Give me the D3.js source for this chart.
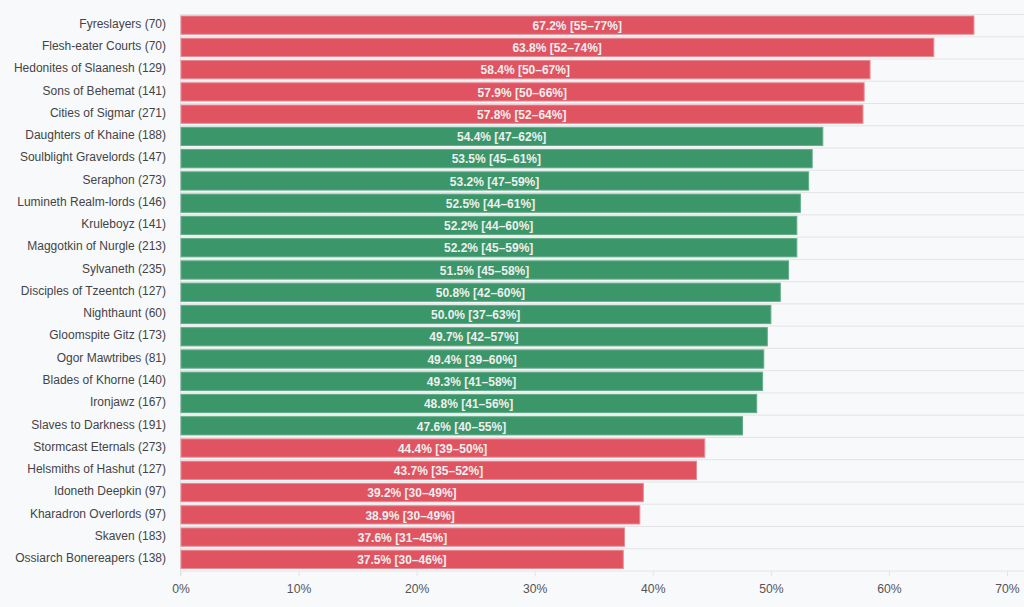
<!DOCTYPE html>
<html>
<head>
<meta charset="utf-8">
<script src="https://cdn.jsdelivr.net/npm/d3@7"></script>
<style>
  html, body { margin: 0; padding: 0; background: #f8f9fb; }
  svg { display: block; font-family: "Liberation Sans", Arial, sans-serif; }
</style>
</head>
<body>
<div class="chart"></div>
<script>
// factions, games played, win rate and 95% interval
var factions = ["Fyreslayers", "Flesh-eater Courts", "Hedonites of Slaanesh", "Sons of Behemat",
  "Cities of Sigmar", "Daughters of Khaine", "Soulblight Gravelords", "Seraphon",
  "Lumineth Realm-lords", "Kruleboyz", "Maggotkin of Nurgle", "Sylvaneth",
  "Disciples of Tzeentch", "Nighthaunt", "Gloomspite Gitz", "Ogor Mawtribes",
  "Blades of Khorne", "Ironjawz", "Slaves to Darkness", "Stormcast Eternals",
  "Helsmiths of Hashut", "Idoneth Deepkin", "Kharadron Overlords", "Skaven",
  "Ossiarch Bonereapers"];
var games = [70, 70, 129, 141, 271, 188, 147, 273, 146, 141, 213, 235, 127, 60, 173, 81,
  140, 167, 191, 273, 127, 97, 97, 183, 138];
var winRate = [67.2, 63.8, 58.4, 57.9, 57.8, 54.4, 53.5, 53.2, 52.5, 52.2, 52.2, 51.5,
  50.8, 50.0, 49.7, 49.4, 49.3, 48.8, 47.6, 44.4, 43.7, 39.2, 38.9, 37.6, 37.5];
var ciLow = [55, 52, 50, 50, 52, 47, 45, 47, 44, 44, 45, 45, 42, 37, 42, 39, 41, 41, 40,
  39, 35, 30, 30, 31, 30];
var ciHigh = [77, 74, 67, 66, 64, 62, 61, 59, 61, 60, 59, 58, 60, 63, 57, 60, 58, 56, 55,
  50, 52, 49, 49, 45, 46];
var xTicks = [0, 10, 20, 30, 40, 50, 60, 70];

var rows = factions.map(function (f, i) {
  return { name: f, n: games[i], v: winRate[i], lo: ciLow[i], hi: ciHigh[i] };
});

var width = 1024, height = 607;
var margin = { top: 14.5, right: 0, bottom: 36, left: 180.5 };

var svg = d3.select(".chart").append("svg")
  .attr("width", width).attr("height", height);

var x = d3.scaleLinear()
  .domain([0, 71.44])
  .range([margin.left, width - margin.right]);

var y = d3.scaleBand()
  .domain(factions)
  .range([margin.top, height - margin.bottom])
  .paddingInner(0.18)
  .paddingOuter(0.09);

var step = y.step();

// horizontal grid between rows
svg.append("g")
  .selectAll("line")
  .data(d3.range(factions.length + 1))
  .enter()
  .append("line")
  .attr("x1", margin.left)
  .attr("x2", width)
  .attr("y1", function (i) { return margin.top + i * step; })
  .attr("y2", function (i) { return margin.top + i * step; })
  .attr("stroke", "#e3e4e6")
  .attr("stroke-width", 1);

// left axis line
svg.append("line")
  .attr("x1", margin.left).attr("x2", margin.left)
  .attr("y1", margin.top).attr("y2", height - margin.bottom + 5)
  .attr("stroke", "#e3e4e6");

var inBand = function (d) { return d.v >= 45 && d.v <= 55; };

svg.append("g")
  .selectAll("rect")
  .data(rows)
  .enter()
  .append("rect")
  .attr("x", x(0) + 0.5)
  .attr("y", function (d) { return y(d.name) - 0.5; })
  .attr("width", function (d) { return x(d.v) - x(0) - 0.5; })
  .attr("height", y.bandwidth())
  .attr("fill", function (d) { return inBand(d) ? "#3b9669" : "#e05361"; })
  .attr("stroke", function (d) { return inBand(d) ? "#62ad88" : "#ea8a93"; })
  .attr("stroke-width", 1);

// value labels in bars
svg.append("g")
  .selectAll("text")
  .data(rows)
  .enter()
  .append("text")
  .attr("x", function (d) { return (x(0) + x(d.v)) / 2; })
  .attr("y", function (d) { return y(d.name) + y.bandwidth() / 2; })
  .attr("dy", "0.35em")
  .attr("text-anchor", "middle")
  .attr("fill", "#eef0ef")
  .attr("font-size", "12px")
  .attr("font-weight", "bold")
  .text(function (d) { return d.v.toFixed(1) + "% [" + d.lo + "\u2013" + d.hi + "%]"; });

// category labels
svg.append("g")
  .selectAll("text")
  .data(rows)
  .enter()
  .append("text")
  .attr("x", margin.left - 14.5)
  .attr("y", function (d) { return y(d.name) + y.bandwidth() / 2 - 2; })
  .attr("dy", "0.35em")
  .attr("text-anchor", "end")
  .attr("fill", "#444")
  .attr("font-size", "12px")
  .text(function (d) { return d.name + " (" + d.n + ")"; });

// x axis
var xAxis = d3.axisBottom(x)
  .tickValues(xTicks)
  .tickSize(5)
  .tickPadding(8)
  .tickFormat(function (d) { return d + "%"; });

var gx = svg.append("g")
  .attr("transform", "translate(0," + (height - margin.bottom) + ")")
  .call(xAxis);
gx.select(".domain").remove();
gx.selectAll(".tick line").attr("stroke", "#e3e4e6");
gx.selectAll(".tick text")
  .attr("fill", "#555")
  .attr("font-size", "12.2px")
  .attr("font-family", "Liberation Sans, Arial, sans-serif");
</script>
</body>
</html>
